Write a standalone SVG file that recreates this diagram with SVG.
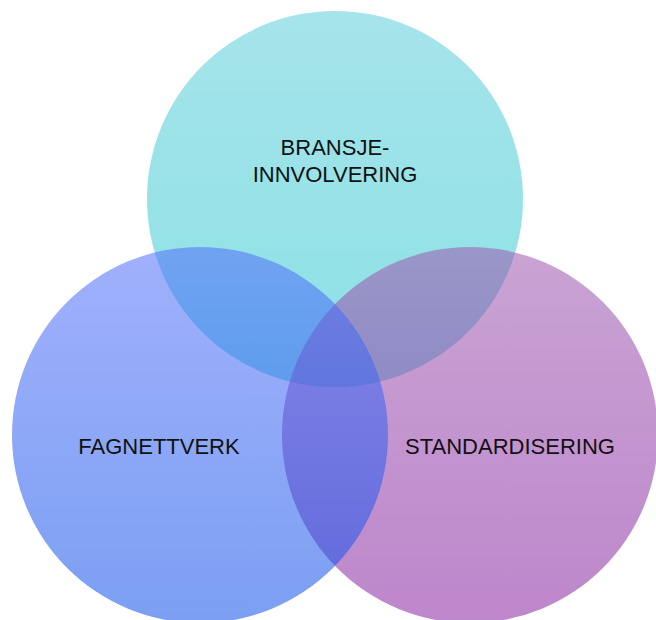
<svg xmlns="http://www.w3.org/2000/svg" width="656" height="620" viewBox="0 0 656 620">
  <style>
    .lbl { font-family: "Liberation Sans", Arial, sans-serif; font-size: 22px; fill: #111; text-anchor: middle; }
    .c { fill-opacity: 0.55; }
  </style>
  <defs>
    <linearGradient id="gTop" x1="0" y1="0" x2="0" y2="1">
      <stop offset="0" stop-color="#5BCED9"/>
      <stop offset="1" stop-color="#2CC8D0"/>
    </linearGradient>
    <linearGradient id="gLeft" x1="0" y1="0" x2="0" y2="1">
      <stop offset="0" stop-color="#5270FA"/>
      <stop offset="1" stop-color="#0F50E7"/>
    </linearGradient>
    <linearGradient id="gRight" x1="0" y1="0" x2="0" y2="1">
      <stop offset="0" stop-color="#9D58AF"/>
      <stop offset="1" stop-color="#8723A0"/>
    </linearGradient>
  </defs>
  <rect width="656" height="620" fill="#FFFFFF"/>
  <g id="bransje">
    <circle class="c" cx="335" cy="199" r="188" fill="url(#gTop)"/>
    <text class="lbl" x="335" y="155">BRANSJE-</text>
    <text class="lbl" x="335" y="182">INNVOLVERING</text>
  </g>
  <g id="standardisering">
    <circle class="c" cx="470" cy="435" r="188" fill="url(#gRight)"/>
  </g>
  <g id="fagnettverk">
    <circle class="c" cx="200" cy="435" r="188" fill="url(#gLeft)"/>
  </g>
  <g id="labels">
    <text class="lbl" x="159" y="454">FAGNETTVERK</text>
    <text class="lbl" x="510" y="454">STANDARDISERING</text>
  </g>
  <g id="connectors"/>
</svg>
